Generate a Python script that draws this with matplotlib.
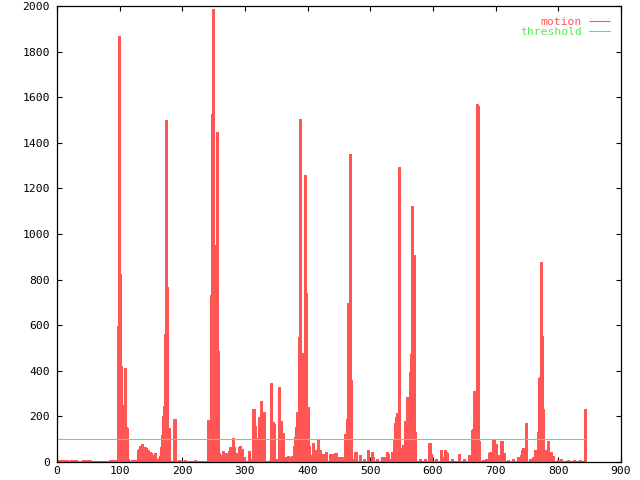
import numpy as np
import matplotlib
matplotlib.use('Agg')
import matplotlib.pyplot as plt

# motion value per frame (frames not listed stay at the quiet level)
n_frames = 844
quiet_level = 6
threshold = 100

# frame numbers and motion values
peak_frames = [
    1, 4, 7, 10, 13, 16, 22, 27, 31, 41, 45, 49, 52, 84, 88, 92, 94,
    97, 98, 99, 100, 101, 102, 103, 104, 105, 106, 107, 108, 109, 110, 111, 112, 113, 114,
    120, 125, 130, 131, 133, 135, 137, 139, 141, 142, 145, 147, 149, 150, 151, 153, 155, 157, 160, 162, 164,
    166, 167, 168, 169, 170, 171, 172, 173, 174, 175, 176, 177, 178, 179, 186, 187, 188,
    195, 205, 220,
    241, 243, 244, 245, 246, 247, 248, 249, 250, 251, 252, 253, 254, 255, 256, 257, 258,
    260, 262, 263, 265, 266, 268, 270, 272, 274, 276, 278, 280, 281, 283, 285, 287, 289,
    291, 292, 293, 295, 298, 306, 309,
    313, 314, 315, 316, 317, 318, 319, 320, 321, 322, 323, 324, 325, 326, 327, 328, 329, 330, 331,
    340, 341, 342, 343, 344, 345, 346, 347, 351, 355, 356, 357, 358, 359, 360,
    366, 368, 370, 373, 375, 377, 378, 379, 380, 381, 382, 383, 384, 385, 386, 387, 388, 389, 390,
    391, 392, 393, 394, 395, 396, 397, 398, 399, 400, 401, 402, 403,
    408, 409, 411, 413, 414, 416, 417, 419, 420, 422, 424, 425, 428, 429, 430, 435, 436, 438,
    440, 441, 443, 445, 450, 455,
    459, 460, 461, 462, 463, 464, 465, 466, 467, 468, 469, 470,
    476, 477, 484, 490, 496, 497, 502, 505, 511, 518, 520, 524, 526, 528, 531, 534, 535,
    537, 538, 539, 540, 541, 542, 543, 544, 545, 546, 547, 548, 549, 550, 551, 552, 553, 554,
    555, 556, 557, 558, 559, 560, 561, 562, 563, 564, 565, 566, 567, 568, 569, 570, 571, 572,
    580, 587, 594, 595, 596, 597, 605, 612, 613, 617, 619, 620, 621, 623, 630, 641, 650,
    658, 660, 661, 663, 664, 665, 666, 667, 668, 669, 670, 671, 672, 673,
    680, 685, 690, 691, 692, 696, 697, 698, 699, 700, 701, 702, 703, 709, 710, 711, 712, 713, 714,
    720, 728, 735, 738, 741, 742, 743, 744, 746, 749, 755, 760, 762, 763, 765,
    767, 768, 769, 770, 771, 772, 773, 774, 775, 776, 777, 778, 779, 780, 783, 789, 791,
    800, 805, 815, 825, 835, 843,
]
peak_values = [
    10, 10, 10, 10, 9, 10, 10, 10, 9, 10, 10, 9, 10, 10, 10, 10, 10,
    596, 596, 1870, 825, 422, 422, 83, 250, 250, 193, 193, 412, 155, 155, 149, 149, 15, 15,
    9, 10, 51, 56, 72, 80, 20, 14, 67, 60, 53, 26, 45, 41, 31, 26, 20, 38, 13, 18, 26,
    67, 67, 118, 202, 202, 246, 561, 561, 1500, 769, 769, 114, 149, 149, 31, 188, 188,
    9, 10, 10,
    184, 67, 89, 89, 732, 732, 1526, 1987, 746, 746, 589, 589, 952, 1447, 487, 487, 39,
    26, 20, 31, 50, 31, 26, 41, 20, 48, 67, 31, 53, 107, 67, 20, 41, 20,
    67, 70, 53, 57, 20, 50, 12,
    232, 232, 158, 158, 105, 105, 105, 105, 75, 75, 197, 197, 269, 75, 105, 105, 219, 219, 44,
    10, 348, 158, 158, 175, 175, 166, 45, 12, 327, 111, 111, 180, 127, 127,
    20, 26, 20, 15, 26, 26, 70, 111, 111, 155, 155, 219, 199, 199, 550, 1504, 1382, 50, 50,
    118, 118, 480, 480, 1259, 743, 743, 352, 240, 240, 70, 70, 31,
    85, 35, 51, 20, 50, 51, 99, 51, 21, 23, 26, 35, 37, 45, 26, 37, 37, 37,
    37, 18, 38, 39, 20, 20,
    99, 123, 123, 181, 189, 189, 699, 699, 1351, 360, 360, 15,
    45, 45, 31, 15, 49, 52, 42, 20, 15, 20, 24, 24, 45, 35, 15, 45, 30,
    67, 99, 99, 172, 197, 197, 216, 216, 1295, 1247, 60, 60, 51, 56, 56, 75, 75, 75,
    123, 181, 181, 286, 211, 211, 191, 284, 284, 396, 474, 474, 1123, 908, 908, 133, 133, 21,
    15, 12, 85, 85, 83, 37, 15, 51, 51, 20, 52, 38, 45, 38, 15, 35, 15,
    31, 31, 31, 140, 143, 143, 313, 313, 289, 289, 1570, 1570, 1561, 94,
    10, 12, 38, 45, 45, 96, 96, 67, 79, 79, 56, 31, 31, 94, 94, 35, 38, 38, 38,
    10, 12, 20, 15, 31, 51, 60, 51, 40, 172, 12, 20, 26, 51, 35,
    133, 133, 367, 374, 374, 876, 553, 553, 231, 231, 51, 51, 50, 35, 94, 45, 26,
    10, 12, 10, 10, 10, 231,
]

red = '#ff5555'
green = '#55ee55'

frames = np.arange(n_frames)
motion = np.full(n_frames, quiet_level, dtype=float)
motion[peak_frames] = peak_values

plt.rcParams['font.family'] = ['DejaVu Sans Mono']
plt.rcParams['font.size'] = 8.2

fig = plt.figure(figsize=(6.4, 4.8), dpi=100)
ax = fig.add_axes([57 / 640, 18 / 480, 564 / 640, 456 / 480])

ax.vlines(frames, 0, motion, colors=red, linewidth=1.0,
          antialiased=False, label='motion')
ax.plot([frames[0], frames[-1]], [threshold, threshold], color=green,
        linewidth=0.8, label='threshold')

ax.set_xlim(0, 900)
ax.set_ylim(0, 2000)
ax.set_xticks(np.arange(0, 901, 100))
ax.set_yticks(np.arange(0, 2001, 200))
ax.tick_params(direction='in', length=3.6, width=0.8, top=True, right=True,
               colors='black')
ax.tick_params(axis='x', pad=3)
ax.tick_params(axis='y', pad=5)
for s in ax.spines.values():
    s.set_linewidth(0.9)

leg = ax.legend(loc='upper right', frameon=False, markerfirst=False,
                handlelength=1.9, handletextpad=0.6,
                borderaxespad=0.55, labelspacing=0.05, borderpad=0.4)
for txt, col in zip(leg.get_texts(), [red, green]):
    txt.set_color(col)
for h in leg.legend_handles:
    h.set_linewidth(0.8)
    h.set_antialiased(True)

fig.savefig('out.png', dpi=100)
